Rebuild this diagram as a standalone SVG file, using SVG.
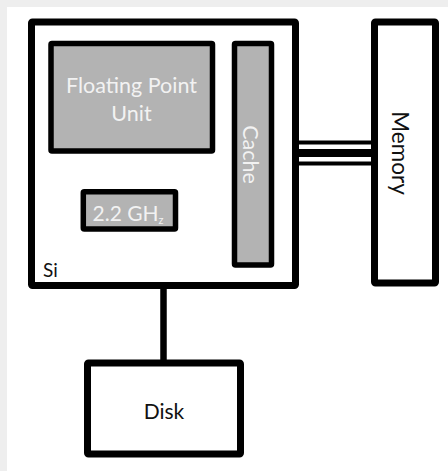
<svg xmlns="http://www.w3.org/2000/svg" width="448" height="471" viewBox="0 0 448 471">
<style>
.box{fill:#ffffff;stroke:#000;stroke-width:7;stroke-linejoin:round}
.gbox{fill:#b3b3b3;stroke:#000;stroke-width:5.5;stroke-linejoin:round}
.wt{font-family:Lato,"Open Sans",sans-serif;font-size:21.5px;fill:#f2f2f2}
.bt{font-family:Lato,"Open Sans",sans-serif;font-size:19px;fill:#111}
.conn{stroke:#000;fill:none}
</style>
<rect x="0" y="0" width="448" height="471" fill="#eeeeee"/>
<rect x="7" y="7" width="441" height="464" fill="#ffffff"/>
<g id="connectors">
<line class="conn" x1="163.5" y1="288" x2="163.5" y2="360" stroke-width="6.5"/>
<line class="conn" x1="298" y1="142.5" x2="372" y2="142.5" stroke-width="4"/>
<line class="conn" x1="298" y1="153" x2="372" y2="153" stroke-width="8"/>
<line class="conn" x1="298" y1="163.5" x2="372" y2="163.5" stroke-width="4"/>
</g>
<g id="si">
<rect class="box" x="31.5" y="22" width="264" height="263.5" rx="1"/>
<text class="bt" x="43" y="277">Si</text>
</g>
<g id="fpu">
<rect class="gbox" x="51" y="43.5" width="161.5" height="107.5" rx="1"/>
<text class="wt" x="131.5" y="93" text-anchor="middle">Floating Point</text>
<text class="wt" x="131.5" y="120.5" text-anchor="middle">Unit</text>
</g>
<g id="cache">
<rect class="gbox" x="234.5" y="43.5" width="37" height="221.5" rx="1"/>
<text class="wt" transform="translate(242.5,154.5) rotate(90)" text-anchor="middle">Cache</text>
</g>
<g id="clock">
<rect class="gbox" x="83.3" y="191.8" width="92.2" height="37.2" rx="1"/>
<text class="wt" style="font-size:21px" x="92.5" y="220.5">2.2 GH<tspan style="font-size:11px" dy="3">z</tspan></text>
</g>
<g id="memory">
<rect class="box" x="374.5" y="22" width="61" height="261" rx="1"/>
<text class="bt" style="font-size:22.5px" transform="translate(391.5,153) rotate(90)" text-anchor="middle">Memory</text>
</g>
<g id="disk">
<rect class="box" x="87.5" y="363" width="153" height="91" rx="1"/>
<text class="bt" style="font-size:21px" x="164" y="419" text-anchor="middle">Disk</text>
</g>
</svg>
